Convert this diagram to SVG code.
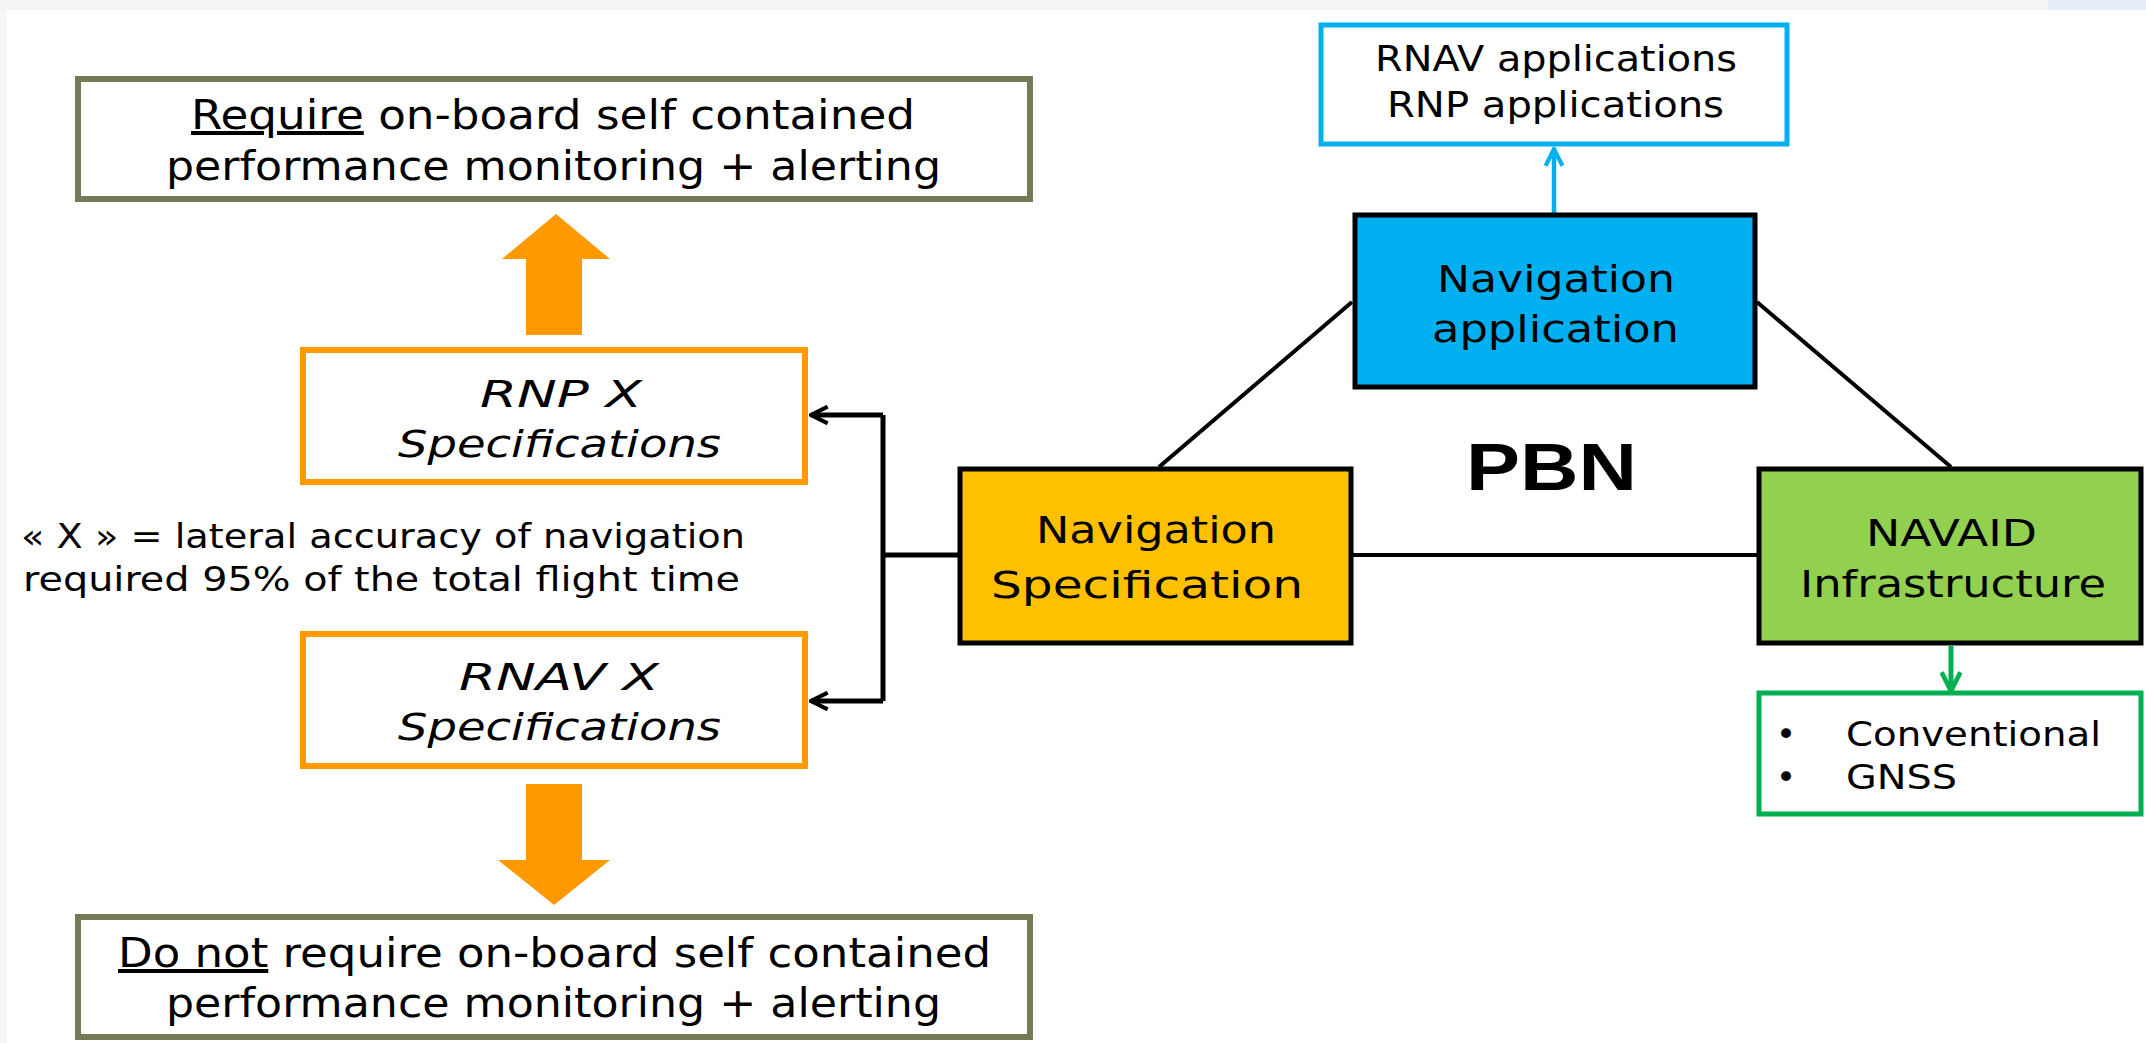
<svg xmlns="http://www.w3.org/2000/svg" width="2146" height="1043" viewBox="0 0 2146 1043">
<style>
text{font-family:"DejaVu Sans","Liberation Sans",sans-serif;fill:#000;}
.t40{font-size:40px;}
.t38{font-size:38px;}
.t35{font-size:35px;}
.t34{font-size:34px;}
.it{font-style:italic;}
.mid{text-anchor:middle;}
.olive{fill:#fff;stroke:#737a55;stroke-width:6;}
.orng{fill:#fff;stroke:#ff9900;stroke-width:6;}
.solid{stroke:#000;stroke-width:5;}
.line{stroke:#000;stroke-width:4;fill:none;}
</style>
<defs>
<marker id="blk" viewBox="0 0 12 12" refX="11" refY="6" markerWidth="4" markerHeight="4" orient="auto" markerUnits="strokeWidth"><path d="M1,1 L11,6 L1,11" fill="none" stroke="#000" stroke-width="2.5"/></marker>
<marker id="blu" viewBox="0 0 12 12" refX="11" refY="6" markerWidth="4.5" markerHeight="4.5" orient="auto" markerUnits="strokeWidth"><path d="M1,1 L11,6 L1,11" fill="none" stroke="#00b0f0" stroke-width="2.5"/></marker>
<marker id="grn" viewBox="0 0 12 12" refX="11" refY="6" markerWidth="4.5" markerHeight="4.5" orient="auto" markerUnits="strokeWidth"><path d="M1,1 L11,6 L1,11" fill="none" stroke="#00b050" stroke-width="2.5"/></marker>
</defs>
<rect x="0" y="0" width="2146" height="1043" fill="#fff"/>
<rect x="0" y="0" width="2048" height="10" fill="#f4f4f4"/>
<rect x="2048" y="0" width="98" height="10" fill="#e6eff9"/>
<rect x="0" y="10" width="7" height="1033" fill="#f6f6f6"/>

<g id="connectors">
<polygon points="556,214 610,259 582,259 582,335 526,335 526,259 502,259" fill="#ff9900"/>
<polygon points="526,784 582,784 582,860 610,860 554,905 498,860 526,860" fill="#ff9900"/>
<polyline points="958,555 883,555" class="line" style="stroke-width:5"/>
<polyline points="883,415 883,701" class="line" style="stroke-width:5"/>
<line x1="883" y1="415" x2="811" y2="415" class="line" style="stroke-width:5" marker-end="url(#blk)"/>
<line x1="883" y1="701" x2="811" y2="701" class="line" style="stroke-width:5" marker-end="url(#blk)"/>
<line x1="1352" y1="302" x2="1159" y2="467" class="line"/>
<line x1="1757" y1="302" x2="1951" y2="467" class="line"/>
<line x1="1353" y1="555" x2="1757" y2="555" class="line"/>
<line x1="1554" y1="213" x2="1554" y2="149" stroke="#00b0f0" stroke-width="4.5" marker-end="url(#blu)"/>
<line x1="1951" y1="646" x2="1951" y2="691" stroke="#00b050" stroke-width="5" marker-end="url(#grn)"/>
</g>

<g id="require-box">
<rect x="78" y="79" width="952" height="120" class="olive"/>
<text class="t40" x="191" y="129" textLength="724" lengthAdjust="spacingAndGlyphs"><tspan text-decoration="underline">Require</tspan> on-board self contained</text>
<text class="t40" x="166" y="180" textLength="775" lengthAdjust="spacingAndGlyphs">performance monitoring + alerting</text>
</g>

<g id="rnp-box">
<rect x="303" y="350" width="502" height="132" class="orng"/>
<text class="t38 it" x="480" y="407" textLength="162" lengthAdjust="spacingAndGlyphs">RNP X</text>
<text class="t38 it" x="398" y="457" textLength="323" lengthAdjust="spacingAndGlyphs">Specifications</text>
</g>

<g id="x-note">
<text class="t34" x="21" y="548" textLength="724" lengthAdjust="spacingAndGlyphs">« X » = lateral accuracy of navigation</text>
<text class="t34" x="23" y="591" textLength="717" lengthAdjust="spacingAndGlyphs">required 95% of the total flight time</text>
</g>

<g id="rnav-box">
<rect x="303" y="634" width="502" height="132" class="orng"/>
<text class="t38 it" x="459" y="690" textLength="200" lengthAdjust="spacingAndGlyphs">RNAV  X</text>
<text class="t38 it" x="398" y="740" textLength="323" lengthAdjust="spacingAndGlyphs">Specifications</text>
</g>

<g id="do-not-box">
<rect x="78" y="917" width="952" height="120" class="olive"/>
<text class="t40" x="118" y="967" textLength="873" lengthAdjust="spacingAndGlyphs"><tspan text-decoration="underline">Do not</tspan> require on-board self contained</text>
<text class="t40" x="166" y="1017" textLength="775" lengthAdjust="spacingAndGlyphs">performance monitoring + alerting</text>
</g>

<g id="applications-box">
<rect x="1321" y="25" width="466" height="119" fill="#fff" stroke="#00b0f0" stroke-width="5"/>
<text class="t35" x="1375" y="71" textLength="362" lengthAdjust="spacingAndGlyphs">RNAV applications</text>
<text class="t35" x="1387" y="117" textLength="337" lengthAdjust="spacingAndGlyphs">RNP applications</text>
</g>

<g id="nav-application">
<rect x="1355" y="215" width="400" height="172" fill="#00b0f0" class="solid"/>
<text class="t38" x="1437" y="292" textLength="238" lengthAdjust="spacingAndGlyphs">Navigation</text>
<text class="t38" x="1432" y="342" textLength="247" lengthAdjust="spacingAndGlyphs">application</text>
</g>

<g id="pbn">
<text x="1466" y="490" font-size="66" font-weight="bold" textLength="171" lengthAdjust="spacingAndGlyphs" style="font-family:'Liberation Sans','DejaVu Sans',sans-serif">PBN</text>
</g>

<g id="nav-specification">
<rect x="960" y="469" width="391" height="174" fill="#ffc000" class="solid"/>
<text class="t38" x="1036" y="543" textLength="240" lengthAdjust="spacingAndGlyphs">Navigation</text>
<text class="t38" x="991" y="598" textLength="312" lengthAdjust="spacingAndGlyphs">Specification</text>
</g>

<g id="navaid-infrastructure">
<rect x="1759" y="469" width="382" height="174" fill="#92d050" class="solid"/>
<text class="t38" x="1866" y="546" textLength="171" lengthAdjust="spacingAndGlyphs">NAVAID</text>
<text class="t38" x="1800" y="597" textLength="306" lengthAdjust="spacingAndGlyphs">Infrastructure</text>
</g>

<g id="navaid-list">
<rect x="1759" y="693" width="382" height="121" fill="#fff" stroke="#00b050" stroke-width="5"/>
<text class="t34 mid" x="1786" y="746">•</text>
<text class="t34 mid" x="1786" y="789">•</text>
<text class="t34" x="1846" y="746" textLength="255" lengthAdjust="spacingAndGlyphs">Conventional</text>
<text class="t34" x="1846" y="789" textLength="111" lengthAdjust="spacingAndGlyphs">GNSS</text>
</g>
</svg>
